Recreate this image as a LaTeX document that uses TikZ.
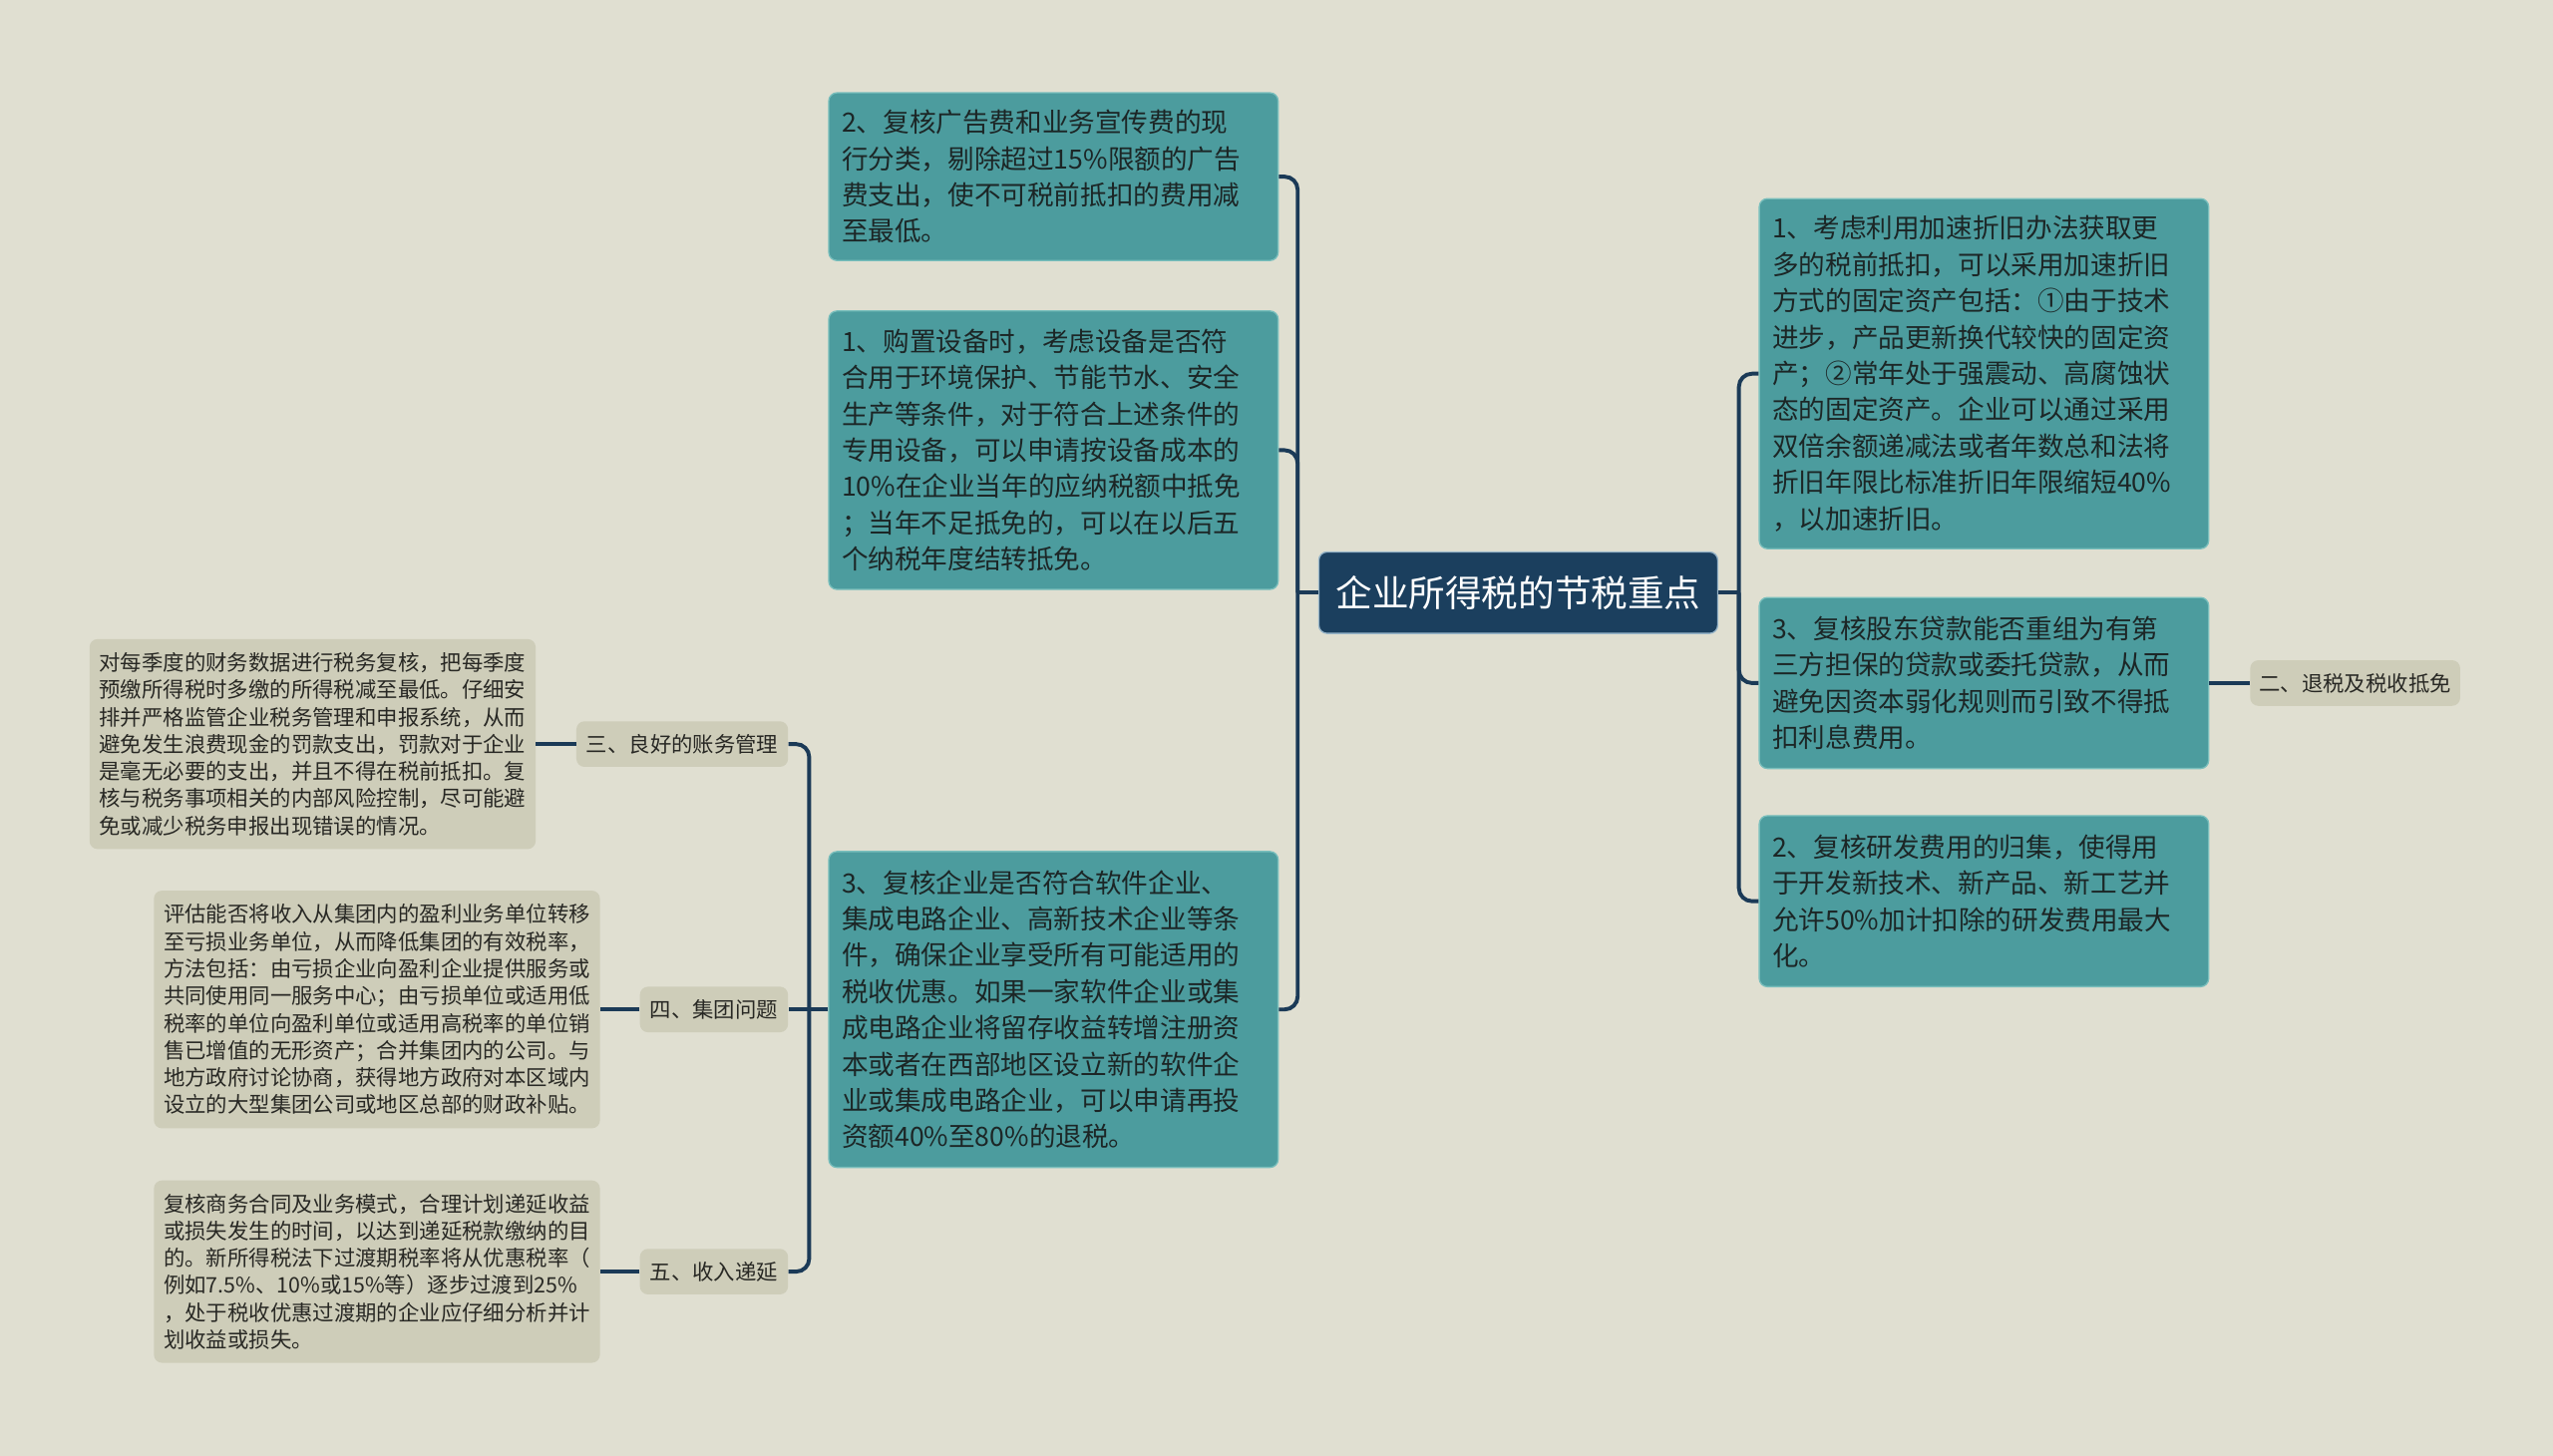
\documentclass[tikz,border=0pt]{standalone}
\usepackage{fontspec}
\setmainfont{Noto Sans CJK SC}
\definecolor{bgc}{RGB}{224,223,209}
\definecolor{tealfill}{RGB}{76,156,158}
\definecolor{tealline}{RGB}{120,190,188}
\definecolor{tealtext}{RGB}{28,38,38}
\definecolor{rootfill}{RGB}{27,63,94}
\definecolor{rootline}{RGB}{150,180,200}
\definecolor{greyfill}{RGB}{206,205,185}
\definecolor{greytext}{RGB}{40,40,36}
\definecolor{connc}{RGB}{27,58,87}
\tikzset{
  tbox/.style={draw=tealline, fill=tealfill, line width=0.8pt, rounded corners=5pt,
    text=tealtext, align=left, inner xsep=8pt, inner ysep=0pt, text width=260pt,
    font=\fontsize{16.3pt}{22.3pt}\selectfont},
  gbox/.style={fill=greyfill, rounded corners=5pt, text=greytext, align=left,
    inner xsep=6pt, inner ysep=0pt, text width=262pt,
    font=\fontsize{13.1pt}{16.7pt}\selectfont},
  lbl/.style={fill=greyfill, rounded corners=5pt, text=greytext, inner sep=0pt,
    minimum height=28pt, font=\fontsize{13.1pt}{16pt}\selectfont},
  rootbox/.style={draw=rootline, fill=rootfill, line width=0.8pt, rounded corners=5pt,
    text=white, inner sep=0pt, minimum width=245pt, minimum height=50pt,
    font=\fontsize{22.4pt}{26pt}\selectfont},
  conn/.style={draw=connc, line width=2.4pt, rounded corners=8pt},
}
\begin{document}
\begin{tikzpicture}[x=1pt,y=-1pt]
\fill[bgc] (0,0) rectangle (1568,894);
\useasboundingbox (0,0) rectangle (1568,894);

% root
\node[rootbox] (root) at (932.5,364) {企业所得税的节税重点};

% left teal boxes
\node[tbox, minimum height=103pt] (L2) at (647,108.5) {2、复核广告费和业务宣传费的现\\行分类，剔除超过15\%限额的广告\\费支出，使不可税前抵扣的费用减\\至最低。};
\node[tbox, minimum height=171pt] (L1) at (647,276.5) {1、购置设备时，考虑设备是否符\\合用于环境保护、节能节水、安全\\生产等条件，对于符合上述条件的\\专用设备，可以申请按设备成本的\\10\%在企业当年的应纳税额中抵免\\；当年不足抵免的，可以在以后五\\个纳税年度结转抵免。};
\node[tbox, minimum height=194pt] (L3) at (647,620) {3、复核企业是否符合软件企业、\\集成电路企业、高新技术企业等条\\件，确保企业享受所有可能适用的\\税收优惠。如果一家软件企业或集\\成电路企业将留存收益转增注册资\\本或者在西部地区设立新的软件企\\业或集成电路企业，可以申请再投\\资额40\%至80\%的退税。};

% right teal boxes
\node[tbox, minimum height=215pt] (R1) at (1218.5,229.5) {1、考虑利用加速折旧办法获取更\\多的税前抵扣，可以采用加速折旧\\方式的固定资产包括：①由于技术\\进步，产品更新换代较快的固定资\\产；②常年处于强震动、高腐蚀状\\态的固定资产。企业可以通过采用\\双倍余额递减法或者年数总和法将\\折旧年限比标准折旧年限缩短40\%\\，以加速折旧。};
\node[tbox, minimum height=105pt] (R3) at (1218.5,419.5) {3、复核股东贷款能否重组为有第\\三方担保的贷款或委托贷款，从而\\避免因资本弱化规则而引致不得抵\\扣利息费用。};
\node[tbox, minimum height=105pt] (R2) at (1218.5,553.5) {2、复核研发费用的归集，使得用\\于开发新技术、新产品、新工艺并\\允许50\%加计扣除的研发费用最大\\化。};

% label nodes
\node[lbl, minimum width=129pt] (n2) at (1446.5,419.5) {二、退税及税收抵免};
\node[lbl, minimum width=130pt] (n3) at (419,457) {三、良好的账务管理};
\node[lbl, minimum width=91pt] (n4) at (438.5,620) {四、集团问题};
\node[lbl, minimum width=91pt] (n5) at (438.5,781) {五、收入递延};

% grey boxes
\node[gbox, minimum height=129pt] (G3) at (192,457) {对每季度的财务数据进行税务复核，把每季度\\预缴所得税时多缴的所得税减至最低。仔细安\\排并严格监管企业税务管理和申报系统，从而\\避免发生浪费现金的罚款支出，罚款对于企业\\是毫无必要的支出，并且不得在税前抵扣。复\\核与税务事项相关的内部风险控制，尽可能避\\免或减少税务申报出现错误的情况。};
\node[gbox, minimum height=146pt] (G4) at (231.5,620) {评估能否将收入从集团内的盈利业务单位转移\\至亏损业务单位，从而降低集团的有效税率，\\方法包括：由亏损企业向盈利企业提供服务或\\共同使用同一服务中心；由亏损单位或适用低\\税率的单位向盈利单位或适用高税率的单位销\\售已增值的无形资产；合并集团内的公司。与\\地方政府讨论协商，获得地方政府对本区域内\\设立的大型集团公司或地区总部的财政补贴。};
\node[gbox, minimum height=112pt] (G5) at (231.5,781) {复核商务合同及业务模式，合理计划递延收益\\或损失发生的时间，以达到递延税款缴纳的目\\的。新所得税法下过渡期税率将从优惠税率（\\例如7.5\%、10\%或15\%等）逐步过渡到25\%\\，处于税收优惠过渡期的企业应仔细分析并计\\划收益或损失。};

% bus coordinates
\coordinate (cl) at (797,364);
\coordinate (cr) at (1068,364);
\coordinate (bl) at (497,620);

% connectors
\draw[conn] (root.west) -- (cl);
\draw[conn] (L2.east) -| (cl) |- (L3.east);
\draw[conn] (L1.east) -| (cl);
\draw[conn] (root.east) -- (cr);
\draw[conn] (R1.west) -| (cr) |- (R2.west);
\draw[conn] (R3.west) -| (cr);
\draw[conn] (R3.east) -- (n2.west);
\draw[conn] (L3.west) -- (n4.east);
\draw[conn] (n3.east) -| (bl) |- (n5.east);
\draw[conn] (n3.west) -- (G3.east);
\draw[conn] (n4.west) -- (G4.east);
\draw[conn] (n5.west) -- (G5.east);
\end{tikzpicture}
\end{document}
